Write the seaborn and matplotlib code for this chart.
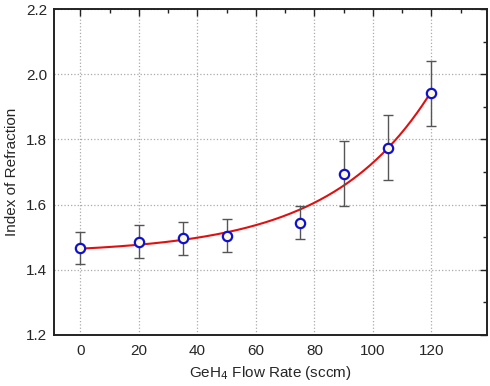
import numpy as np
import pandas as pd
import matplotlib
matplotlib.use("Agg")
import matplotlib.pyplot as plt
import seaborn as sns
from matplotlib.ticker import MultipleLocator

# data
flow = [0, 20, 35, 50, 75, 90, 105, 120]
index = [1.467, 1.486, 1.496, 1.504, 1.544, 1.695, 1.775, 1.942]
err = [0.05, 0.05, 0.05, 0.05, 0.05, 0.10, 0.10, 0.10]

df = pd.DataFrame({"flow": flow, "index": index, "err": err})

# exponential growth fit  y = y0 + A*exp(x/t)
x = df["flow"].to_numpy(float)
y = df["index"].to_numpy(float)
best = None
for t in np.linspace(10, 120, 1101):
    M = np.column_stack([np.ones_like(x), np.exp(x / t)])
    coef, res, *_ = np.linalg.lstsq(M, y, rcond=None)
    sse = np.sum((M @ coef - y) ** 2)
    if best is None or sse < best[0]:
        best = (sse, t, coef)
_, t_fit, (y0, A) = best
xf = np.linspace(0, 120, 300)
fit = pd.DataFrame({"flow": xf, "index": y0 + A * np.exp(xf / t_fit)})

sns.set_style("white")
plt.rcParams["font.family"] = ["Liberation Sans", "DejaVu Sans"]

fig = plt.figure(figsize=(4.9, 3.86), dpi=100)
ax = fig.add_axes([0.110, 0.133, 0.884, 0.843])

sns.lineplot(data=fit, x="flow", y="index", color="#e01010", lw=1.5, ax=ax, zorder=2)
ax.errorbar(df["flow"], df["index"], yerr=df["err"], fmt="none", ecolor="#555555",
            elinewidth=1.0, capsize=3.5, capthick=1.0, zorder=3)
sns.scatterplot(data=df, x="flow", y="index", marker="o", s=45, facecolor="#fffbd8",
                edgecolor="#1010d0", linewidth=1.6, ax=ax, zorder=4)

ax.set_xlim(-9, 139)
ax.set_ylim(1.2, 2.2)
ax.set_xticks([0, 20, 40, 60, 80, 100, 120])
ax.set_yticks([1.2, 1.4, 1.6, 1.8, 2.0, 2.2])
ax.xaxis.set_minor_locator(MultipleLocator(10))
ax.yaxis.set_minor_locator(MultipleLocator(0.1))
ax.tick_params(which="both", direction="in", top=True, right=True, labelsize=11, color="#222222")
ax.tick_params(which="major", length=5, width=1)
ax.tick_params(which="minor", length=3, width=1)
ax.tick_params(axis="x", pad=7)
ax.tick_params(axis="y", pad=5)
ax.grid(True, which="major", ls=":", color="#aaaaaa", lw=0.9)
for s in ax.spines.values():
    s.set_linewidth(1.4)
    s.set_color("#222222")

ax.set_xlabel("GeH$_4$ Flow Rate (sccm)", fontsize=11, labelpad=4)
ax.set_ylabel("Index of Refraction", fontsize=11, labelpad=5)

fig.savefig("out.png", dpi=100)
